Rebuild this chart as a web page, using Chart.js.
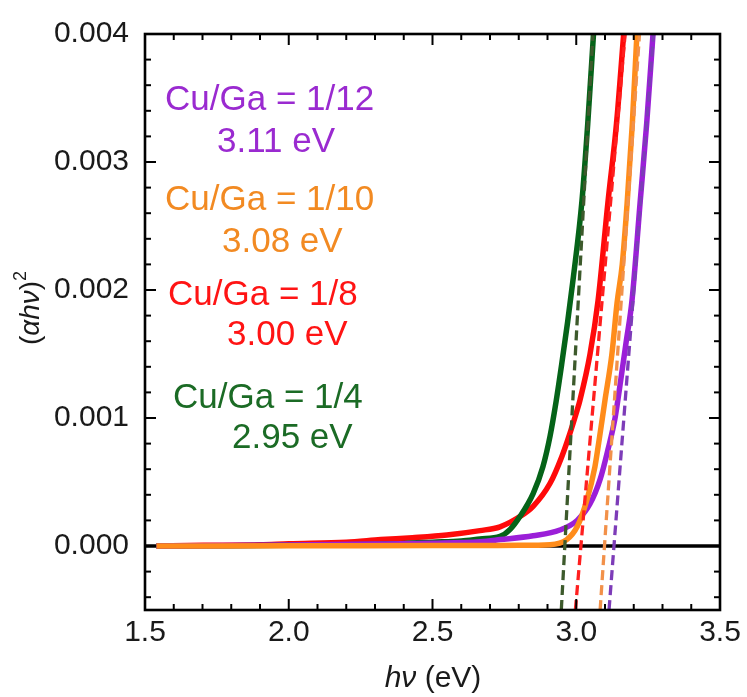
<!DOCTYPE html>
<html><head><meta charset="utf-8">
<script src="https://cdn.jsdelivr.net/npm/chart.js@4.4.0/dist/chart.umd.min.js"></script>
<style>html,body{margin:0;padding:0;background:#fff}#wrap{width:747px;height:697px;position:relative}</style>
</head><body><div id="wrap"><canvas id="c"></canvas></div>
<script>
// ---- data ----
const xTicks = [1.5, 2.0, 2.5, 3.0, 3.5];
const yTicks = [0, 0.001, 0.002, 0.003, 0.004];
const xRange = [1.5, 3.5];
const yRange = [-0.0005, 0.004];

const greenE = [1.54, 1.8, 2.0, 2.2, 2.4, 2.5, 2.6, 2.665, 2.735, 2.77, 2.804, 2.85, 2.884, 2.909, 2.93, 2.95, 2.97, 2.99, 3.02, 3.04, 3.06];
const greenV = [0, 0.000002, 0.000005, 0.00001, 0.00002, 0.00003, 0.00004, 0.000055, 0.000075, 0.00013, 0.00023, 0.00041, 0.00062, 0.00086, 0.00113, 0.00143, 0.00175, 0.0021, 0.0027, 0.0033, 0.004];

const redE = [1.54, 1.7, 1.9, 2.0, 2.2, 2.32, 2.43, 2.55, 2.665, 2.735, 2.804, 2.85, 2.909, 2.95, 2.978, 3.003, 3.013, 3.048, 3.076, 3.11, 3.14, 3.165];
const redV = [0, 0.000005, 0.00001, 0.000018, 0.00003, 0.00005, 0.000065, 0.000086, 0.00012, 0.00015, 0.00023, 0.00031, 0.00049, 0.0007, 0.00088, 0.00106, 0.00114, 0.0015, 0.00192, 0.00268, 0.0033, 0.004];

const purpleE = [1.54, 2.0, 2.3, 2.5, 2.665, 2.735, 2.85, 2.943, 3.003, 3.048, 3.083, 3.11, 3.135, 3.155, 3.174, 3.194, 3.222, 3.245, 3.267];
const purpleV = [0, 0.000008, 0.000015, 0.000022, 0.000034, 0.00005, 0.00008, 0.000125, 0.0002, 0.00033, 0.00052, 0.00075, 0.001, 0.0013, 0.0016, 0.00192, 0.00268, 0.0033, 0.004];

const orangeE = [1.54, 2.0, 2.5, 2.8, 2.909, 2.967, 3.003, 3.037, 3.065, 3.083, 3.1, 3.124, 3.142, 3.16, 3.177, 3.195, 3.211];
const orangeV = [0, 0.000002, 0.000003, 0.000005, 0.00001, 0.00005, 0.00015, 0.00036, 0.00062, 0.00088, 0.00114, 0.0015, 0.0019, 0.0022, 0.00268, 0.0033, 0.004];

// linear fits (Tauc extrapolation), from y = -0.0005 to y = 0.004
const fitV = [-0.0005, 0.004];
const greenFitE = [2.948, 3.058];
const redFitE = [2.997, 3.170];
const orangeFitE = [3.083, 3.220];
const purpleFitE = [3.114, 3.269];

const zeroE = [1.5, 3.5];
const zeroV = [0, 0];

const seriesNames = ['Cu/Ga = 1/12', 'Cu/Ga = 1/10', 'Cu/Ga = 1/8', 'Cu/Ga = 1/4'];
const gapLabels = ['3.11 eV', '3.08 eV', '3.00 eV', '2.95 eV'];

// ---- styling ----
const C = {
  purple: '#9b1fd8', orange: '#ff8c1a', red: '#ff0a0a', green: '#056318',
  purpleD: '#7d3cb8', orangeD: '#f2914a', redD: '#ff1f1f', greenD: '#3d5a2c',
  purpleT: '#9a2ad0', orangeT: '#f28a22', redT: '#ff1414', greenT: '#1b6b25'
};
const FONT = '"Liberation Sans", Arial, sans-serif';
const pts = (E, V) => E.map((e, i) => ({x: e, y: V[i]}));

function solid(E, V, color, order) {
  return {data: pts(E, V), borderColor: color, borderWidth: 5.5, pointRadius: 0,
    cubicInterpolationMode: 'monotone', fill: false, order};
}
function dashed(E, color, order) {
  return {data: pts(E, fitV), borderColor: color, borderWidth: 3.3, borderDash: [10, 5], pointRadius: 0, fill: false, order};
}

const framePlugin = {
  id: 'frame',
  afterDraw(chart) {
    const {ctx, chartArea: a, scales} = chart;
    const xs = scales.x, ys = scales.y;
    ctx.save();
    ctx.strokeStyle = '#000';
    ctx.lineWidth = 2;
    const tick = (x1, y1, x2, y2) => { ctx.beginPath(); ctx.moveTo(x1, y1); ctx.lineTo(x2, y2); ctx.stroke(); };
    const MAJ = 11, MIN = 6;
    for (let i = 0; i <= 20; i++) {
      const v = xRange[0] + i * 0.1;
      const major = xTicks.some(t => Math.abs(t - v) < 1e-6);
      const L = major ? MAJ : MIN;
      const px = xs.getPixelForValue(v);
      tick(px, a.bottom, px, a.bottom - L);
      tick(px, a.top, px, a.top + L);
    }
    for (let i = -2; i <= 20; i++) {
      const v = i * 0.0002;
      const major = yTicks.some(t => Math.abs(t - v) < 1e-9);
      const L = major ? MAJ : MIN;
      const py = ys.getPixelForValue(v);
      tick(a.left, py, a.left + L, py);
      tick(a.right, py, a.right - L, py);
    }
    ctx.lineWidth = 2.6;
    ctx.strokeRect(a.left, a.top, a.right - a.left, a.bottom - a.top);
    ctx.restore();
  }
};

const textPlugin = {
  id: 'texts',
  afterDraw(chart) {
    const {ctx} = chart;
    ctx.save();
    ctx.textBaseline = 'alphabetic';
    ctx.textAlign = 'left';
    ctx.font = '35px ' + FONT;
    const cols = [C.purpleT, C.orangeT, C.redT, C.greenT];
    const nameXY = [[165, 110], [165, 210], [168, 305], [173, 408]];
    const gapXY = [[217, 152], [222, 252], [227, 345], [232, 448]];
    for (let i = 0; i < 4; i++) {
      ctx.fillStyle = cols[i];
      ctx.fillText(seriesNames[i], nameXY[i][0], nameXY[i][1]);
      ctx.fillText(gapLabels[i], gapXY[i][0], gapXY[i][1]);
    }
    // x title: hν (eV)
    ctx.fillStyle = '#1a1a1a';
    const xi = 'italic 30px ' + FONT, xn = '30px ' + FONT;
    ctx.font = xi; const w1 = ctx.measureText('hν').width;
    ctx.font = xn; const w2 = ctx.measureText(' (eV)').width;
    const x0 = 433 - (w1 + w2) / 2;
    ctx.font = xi; ctx.fillText('hν', x0, 687);
    ctx.font = xn; ctx.fillText(' (eV)', x0 + w1, 687);
    // y title: (αhν)^2 rotated
    ctx.translate(39, 308);
    ctx.rotate(-Math.PI / 2);
    const yn = '28px ' + FONT, yi = 'italic 28px ' + FONT, ys2 = '18px ' + FONT;
    const parts = [['(', yn, 0], ['αhν', yi, 0], [')', yn, 0], ['2', ys2, -13]];
    let tot = 0;
    parts.forEach(p => { ctx.font = p[1]; p.push(ctx.measureText(p[0]).width); tot += p[3]; });
    let cx = -tot / 2;
    parts.forEach(p => { ctx.font = p[1]; ctx.fillText(p[0], cx, p[2]); cx += p[3]; });
    ctx.restore();
  }
};

new Chart(document.getElementById('c'), {
  type: 'line',
  data: {
    datasets: [
      dashed(greenFitE, C.greenD, 0),
      dashed(redFitE, C.redD, 0),
      dashed(orangeFitE, C.orangeD, 0),
      dashed(purpleFitE, C.purpleD, 0),
      solid(orangeE, orangeV, C.orange, 1),
      solid(purpleE, purpleV, C.purple, 2),
      solid(greenE, greenV, C.green, 3),
      solid(redE, redV, C.red, 4),
      {data: pts(zeroE, zeroV), borderColor: '#000', borderWidth: 3.5, pointRadius: 0, order: 5}
    ]
  },
  options: {
    responsive: true,
    maintainAspectRatio: false,
    animation: false,
    layout: {padding: {top: 34, right: 27, left: 0, bottom: 0}},
    plugins: {legend: {display: false}, tooltip: {enabled: false}},
    scales: {
      x: {
        type: 'linear', min: xRange[0], max: xRange[1],
        afterBuildTicks: s => { s.ticks = xTicks.map(v => ({value: v})); },
        afterFit: s => { s.height = 87; },
        grid: {display: false, drawTicks: false},
        border: {display: false},
        ticks: {font: {size: 30, family: FONT}, color: '#1a1a1a', padding: 5, maxRotation: 0,
          callback: v => Number(v).toFixed(1)}
      },
      y: {
        type: 'linear', min: yRange[0], max: yRange[1],
        afterBuildTicks: s => { s.ticks = yTicks.map(v => ({value: v})); },
        afterFit: s => { s.width = 145; },
        grid: {display: false, drawTicks: false},
        border: {display: false},
        ticks: {font: {size: 30, family: FONT}, color: '#1a1a1a', padding: 16,
          callback: v => Number(v).toFixed(3)}
      }
    }
  },
  plugins: [framePlugin, textPlugin]
});
</script>
</body></html>
